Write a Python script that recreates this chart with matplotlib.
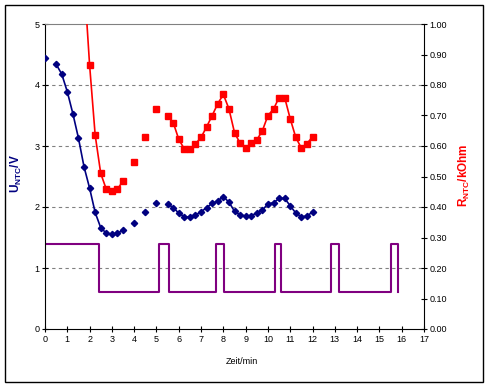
import numpy as np
import matplotlib
matplotlib.use("Agg")
import matplotlib.pyplot as plt
from matplotlib.patches import Rectangle

plt.rcParams['font.family'] = ['Liberation Sans', 'DejaVu Sans']
plt.rcParams['mathtext.fontset'] = 'custom'
plt.rcParams['mathtext.rm'] = 'Liberation Sans'
plt.rcParams['mathtext.bf'] = 'Liberation Sans:bold'

# Messwerte (Zeit in min), Luecken = keine Messung
t = [0, 0.25, 0.5, 0.75, 1.0, 1.25, 1.5, 1.75, 2.0, 2.25, 2.5, 2.75, 3.0, 3.25, 3.5,
     3.75, 4.0, 4.25, 4.5, 4.75, 5.0, 5.25, 5.5, 5.75, 6.0, 6.25, 6.5, 6.75, 7.0,
     7.25, 7.5, 7.75, 8.0, 8.25, 8.5, 8.75, 9.0, 9.25, 9.5, 9.75, 10.0, 10.25,
     10.5, 10.75, 11.0, 11.25, 11.5, 11.75, 12.0]
nan = np.nan
u_ntc = [4.45, nan, 4.34, 4.18, 3.89, 3.53, 3.13, 2.66, 2.31, 1.91, 1.66, 1.57, 1.55,
         1.57, 1.62, nan, 1.74, nan, 1.91, nan, 2.07, nan, 2.05, 1.99, 1.90, 1.84,
         1.83, 1.87, 1.92, 1.99, 2.06, 2.10, 2.17, 2.08, 1.93, 1.87, 1.85, 1.86,
         1.90, 1.95, 2.05, 2.07, 2.14, 2.14, 2.02, 1.90, 1.84, 1.85, 1.92]
r_ntc = [nan, nan, nan, nan, nan, nan, nan, 1.15, 0.866, 0.636, 0.510, 0.458, 0.452,
         0.458, 0.486, nan, 0.546, nan, 0.628, nan, 0.722, nan, 0.700, 0.677, 0.622,
         0.590, 0.590, 0.607, 0.628, 0.663, 0.700, 0.739, 0.769, 0.722, 0.644,
         0.609, 0.593, 0.609, 0.620, 0.650, 0.700, 0.721, 0.759, 0.759, 0.689,
         0.628, 0.593, 0.608, 0.630]

# Heizung an/aus (Schaltzeitpunkte)
t_heiz = [0, 2.4, 5.1, 5.55, 7.65, 8.05, 10.3, 10.6, 12.85, 13.2, 15.5, 15.85]
heiz = [1.4, 0.6, 1.4, 0.6, 1.4, 0.6, 1.4, 0.6, 1.4, 0.6, 1.4, 0.6]

fig = plt.figure(figsize=(4.9, 3.88), dpi=100)
ax = fig.add_axes([45/490, 59/388, 379/490, 305/388])
ax2 = ax.twinx()

# Rahmen um das Diagramm
fig.patches.append(Rectangle((5/490, 6/388), 478/490, 377/388, transform=fig.transFigure,
                             fill=False, edgecolor='black', linewidth=1.0))

for yy in [1, 2, 3, 4]:
    ax.axhline(yy, color='#808080', linewidth=0.8, linestyle=(0, (3, 3)), zorder=0)

ax.step(t_heiz, heiz, where='post', color='#800080', linewidth=1.5, zorder=2)
ax.plot(t, u_ntc, color='#000080', linewidth=1.2, marker='D', markersize=3.2, zorder=3)
ax2.plot(t, r_ntc, color='#FF0000', linewidth=1.2, marker='s', markersize=4.0, zorder=3)

ax.set_xlim(0, 17)
ax.set_ylim(0, 5)
ax2.set_ylim(0, 1)
ax.set_xticks(range(18))
ax.set_yticks(range(6))
ax2.set_yticks(np.arange(0, 1.01, 0.1))
ax2.set_yticklabels([f"{v:.2f}" for v in np.arange(0, 1.01, 0.1)])

ax.spines['top'].set_color('#808080')
ax.spines['right'].set_visible(False)
for s in ['top', 'left', 'bottom']:
    ax2.spines[s].set_visible(False)
ax2.spines['right'].set_color('black')

ax.tick_params(axis='both', direction='inout', length=4, width=0.8, labelsize=6.5, pad=2)
ax2.tick_params(axis='y', direction='inout', length=4, width=0.8, labelsize=6.5, pad=2)

fig.text(242/490, 1 - 361/388, 'Zeit/min', ha='center', va='center', fontsize=6.5)
fig.text(16/490, 1 - 174/388, r'$\mathbf{U}_{\mathbf{NTC}}\mathbf{/V}$', rotation=90,
         ha='center', va='center', fontsize=8.5, color='#000080')
fig.text(464/490, 1 - 175/388, r'$\mathbf{R}_{\mathbf{NTC}}\mathbf{/kOhm}$', rotation=90,
         ha='center', va='center', fontsize=8.5, color='#FF0000')

fig.savefig('out.png', dpi=100)
